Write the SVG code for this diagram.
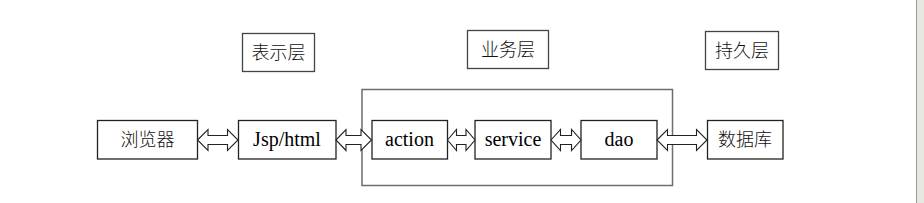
<svg xmlns="http://www.w3.org/2000/svg" width="924" height="203" viewBox="0 0 924 203">
<style>
.box{fill:#fff;stroke:#222;stroke-width:1.3}
.lbl{fill:#fff;stroke:#444;stroke-width:1.3}
.cont{fill:none;stroke:#6e6e6e;stroke-width:1.5}
.arr{fill:#fff;stroke:#222;stroke-width:1.1}
.t{font-family:"Liberation Serif","Noto Sans CJK SC",serif;font-size:20px;fill:#000;text-anchor:middle}
.c{font-family:"Noto Sans CJK SC","Liberation Serif",sans-serif;font-size:18px;font-weight:300;fill:#111;text-anchor:middle}
</style>
<rect x="0" y="0" width="924" height="203" fill="#fff"/>
<rect x="917" y="0" width="7" height="203" fill="#e8e7df"/>
<line x1="916.5" y1="0" x2="916.5" y2="203" stroke="#9a9a9a" stroke-width="1"/>
<g id="container"><rect class="cont" x="362" y="89.5" width="310.5" height="96"/></g>
<g id="layer-present"><rect class="lbl" x="242.5" y="33.5" width="72" height="38"/><text class="c" x="278.5" y="59">表示层</text></g>
<g id="layer-business"><rect class="lbl" x="467.5" y="30.5" width="81" height="38"/><text class="c" x="508" y="56">业务层</text></g>
<g id="layer-persist"><rect class="lbl" x="705.5" y="31.5" width="73" height="38"/><text class="c" x="742" y="57">持久层</text></g>
<g id="browser"><rect class="box" x="97.5" y="120.5" width="100" height="38.5"/><text class="c" x="147.5" y="146">浏览器</text></g>
<g id="jsp"><rect class="box" x="238.5" y="120.5" width="97.5" height="38.5"/><text class="t" x="287" y="146">Jsp/html</text></g>
<g id="action"><rect class="box" x="372" y="120.5" width="75.5" height="38.5"/><text class="t" x="409.5" y="146">action</text></g>
<g id="service"><rect class="box" x="475" y="120.5" width="76" height="38.5"/><text class="t" x="513" y="146">service</text></g>
<g id="dao"><rect class="box" x="581" y="120.5" width="76" height="38.5"/><text class="t" x="619" y="146">dao</text></g>
<g id="db"><rect class="box" x="707.5" y="120.5" width="75.5" height="38.5"/><text class="c" x="745" y="146">数据库</text></g>
<g id="connectors">
<path class="arr" d="M197.5,140 L208,129.5 L208,135.5 L227.5,135.5 L227.5,129.5 L238,140 L227.5,150.5 L227.5,144.5 L208,144.5 L208,150.5 Z"/>
<path class="arr" d="M336,140 L346,129.5 L346,135.5 L361,135.5 L361,129.5 L371.5,140 L361,150.5 L361,144.5 L346,144.5 L346,150.5 Z"/>
<path class="arr" d="M447.5,140 L456.5,129.5 L456.5,135.5 L466,135.5 L466,129.5 L475,140 L466,150.5 L466,144.5 L456.5,144.5 L456.5,150.5 Z"/>
<path class="arr" d="M551,140 L560.5,129.5 L560.5,135.5 L571.5,135.5 L571.5,129.5 L581,140 L571.5,150.5 L571.5,144.5 L560.5,144.5 L560.5,150.5 Z"/>
<path class="arr" d="M657,140 L667.5,129.5 L667.5,135.5 L696.5,135.5 L696.5,129.5 L707,140 L696.5,150.5 L696.5,144.5 L667.5,144.5 L667.5,150.5 Z"/>
</g>
</svg>
